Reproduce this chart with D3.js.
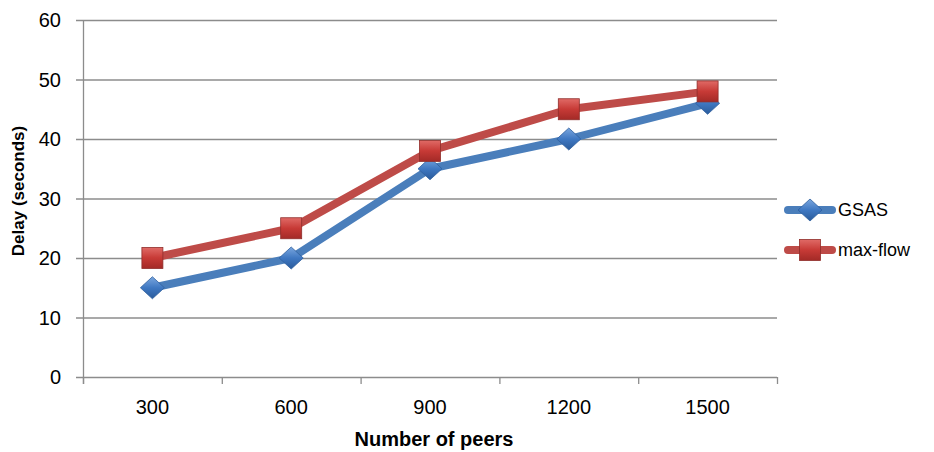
<!DOCTYPE html>
<html><head><meta charset="utf-8">
<script src="https://cdn.jsdelivr.net/npm/d3@7"></script>
<style>body{margin:0;background:#fff}</style>
</head><body>
<svg id="c" width="934" height="452"></svg>
<script>
const categories = ["300","600","900","1200","1500"];
const gsas = [15, 20, 35, 40, 46];
const maxflow = [20, 25, 38, 45, 48];
const yTicks = [0,10,20,30,40,50,60];
const seriesNames = ["GSAS","max-flow"];

const svg = d3.select("#c");
const font = "'Liberation Sans', Arial, sans-serif";
const m = {l:83, r:777, t:20, b:377};
const x = d3.scaleBand().domain(categories).range([m.l, m.r]);
const y = d3.scaleLinear().domain([0,60]).range([m.b, m.t]);

const defs = svg.append("defs");
const gb = defs.append("linearGradient").attr("id","gb").attr("x1",0).attr("y1",0).attr("x2",0).attr("y2",1);
gb.append("stop").attr("offset","0%").attr("stop-color","#7aa6de");
gb.append("stop").attr("offset","50%").attr("stop-color","#3f78c2");
gb.append("stop").attr("offset","100%").attr("stop-color","#2a5b9b");
const gr = defs.append("linearGradient").attr("id","gr").attr("x1",0).attr("y1",0).attr("x2",0).attr("y2",1);
gr.append("stop").attr("offset","0%").attr("stop-color","#e06a66");
gr.append("stop").attr("offset","50%").attr("stop-color","#c73a36");
gr.append("stop").attr("offset","100%").attr("stop-color","#a32a27");

// gridlines
svg.append("g").selectAll("line").data(yTicks).join("line")
  .attr("x1", m.l-7).attr("x2", m.r).attr("y1", d=>y(d)+0.5).attr("y2", d=>y(d)+0.5)
  .attr("stroke","#8c8c8c").attr("stroke-width",1.3);
// y axis line
svg.append("line").attr("x1",m.l+0.5).attr("x2",m.l+0.5).attr("y1",m.t).attr("y2",m.b+7)
  .attr("stroke","#8c8c8c").attr("stroke-width",1.3);
// x ticks at band boundaries
const bounds = categories.map(c=>x(c)+x.bandwidth()).concat([m.l]);
svg.append("g").selectAll("line").data(bounds).join("line")
  .attr("x1",d=>d+0.5).attr("x2",d=>d+0.5).attr("y1",m.b).attr("y2",m.b+7)
  .attr("stroke","#8c8c8c").attr("stroke-width",1.3);

// y labels
svg.append("g").selectAll("text").data(yTicks).join("text")
  .attr("x", 61).attr("y", d=>y(d)).attr("dy","0.36em").attr("text-anchor","end")
  .attr("font-family",font).attr("font-size",20).attr("fill","#000").text(d=>d);
// x labels
svg.append("g").selectAll("text").data(categories).join("text")
  .attr("x", d=>x(d)+x.bandwidth()/2).attr("y", 414).attr("text-anchor","middle")
  .attr("font-family",font).attr("font-size",20).attr("fill","#000").text(d=>d);

// titles
svg.append("text").attr("x",434).attr("y",446).attr("text-anchor","middle")
  .attr("font-family",font).attr("font-size",20).attr("font-weight","bold").text("Number of peers");
svg.append("text").attr("transform","translate(24,191) rotate(-90)").attr("text-anchor","middle")
  .attr("font-family",font).attr("font-size",17).attr("font-weight","bold").text("Delay (seconds)");

const line = d3.line().x((d,i)=>x(categories[i])+x.bandwidth()/2).y(d=>y(d));
const series = [
  {name:seriesNames[0], vals:gsas, color:"#4a7ebb", sym:d3.symbolDiamond, fill:"url(#gb)", stroke:"#2f5f9e"},
  {name:seriesNames[1], vals:maxflow, color:"#be4b48", sym:d3.symbolSquare, fill:"url(#gr)", stroke:"#8f2d2a"}
];
function marker(g, s, cx, cy){
  if (s.sym === d3.symbolDiamond) {
    g.append("path").attr("d", `M${cx},${cy-11}L${cx+12},${cy}L${cx},${cy+11}L${cx-12},${cy}Z`)
      .attr("fill", s.fill).attr("stroke", s.stroke).attr("stroke-width",0.8);
  } else {
    g.append("rect").attr("x",cx-10.5).attr("y",cy-10.5).attr("width",21).attr("height",21)
      .attr("fill", s.fill).attr("stroke", s.stroke).attr("stroke-width",0.8);
  }
}
series.forEach(s=>{
  svg.append("path").datum(s.vals).attr("d",line).attr("fill","none")
    .attr("stroke",s.color).attr("stroke-width",8).attr("stroke-linejoin","round").attr("stroke-linecap","round");
});
series.forEach(s=>{
  const g = svg.append("g");
  s.vals.forEach((v,i)=>marker(g, s, x(categories[i])+x.bandwidth()/2, y(v)));
});

// legend
series.forEach((s,i)=>{
  const ly = 210 + i*40;
  svg.append("line").attr("x1",788).attr("x2",832).attr("y1",ly).attr("y2",ly)
    .attr("stroke",s.color).attr("stroke-width",8).attr("stroke-linecap","round");
  marker(svg.append("g"), s, 810, ly);
  svg.append("text").attr("x",838).attr("y",ly).attr("dy","0.36em")
    .attr("font-family",font).attr("font-size",18).text(s.name);
});
</script>
</body></html>
